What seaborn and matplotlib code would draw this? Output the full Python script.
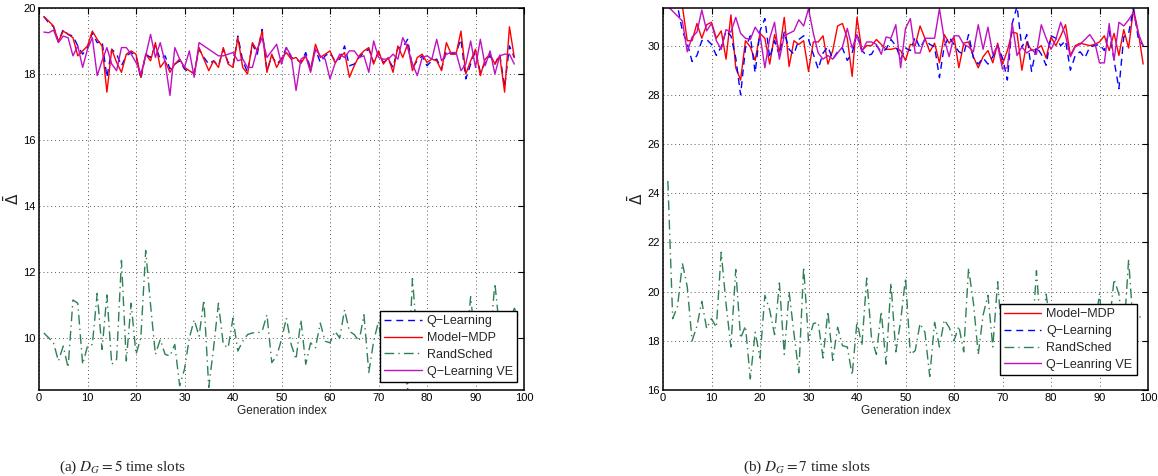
import numpy as np
import pandas as pd
import matplotlib
matplotlib.use('Agg')
import matplotlib.pyplot as plt
import seaborn as sns

# ---- panel (a): D_G = 5 time slots ----
qlearn_a = [19.74, 19.55, 19.43, 18.98, 19.35, 19.2, 19.15, 18.85, 18.6, 18.8,
            19.25, 18.95, 19.0, 17.9, 18.75, 18.6, 18.25, 18.55, 18.65, 18.55,
            17.85, 18.6, 18.5, 18.85, 18.45, 18.55, 18.15, 18.3, 18.4, 18.15,
            18.05, 18.05, 18.75, 18.5, 18.3, 18.4, 18.25, 18.75, 18.35, 18.25,
            19.15, 18.4, 18.05, 18.9, 18.6, 19.35, 18.1, 18.55, 18.3, 18.45,
            18.8, 18.5, 18.45, 18.35, 18.65, 18.15, 18.75, 18.35, 18.55, 18.65,
            18.4, 18.45, 18.85, 18.25, 18.3, 18.5, 18.65, 18.75, 18.35, 18.65,
            18.35, 18.45, 18.2, 18.8, 18.8, 19.05, 18.2, 18.4, 18.55, 18.25,
            18.4, 18.45, 18.15, 18.7, 18.6, 18.65, 19.05, 17.85, 18.3, 18.7,
            18.05, 18.35, 18.55, 18.3, 18.6, 17.6, 18.85, 18.5]
mdp_a = [19.74, 19.6, 19.45, 18.98, 19.3, 19.2, 19.1, 18.55, 18.7, 18.85,
         19.3, 19.05, 18.85, 17.45, 18.75, 18.35, 18.05, 18.6, 18.7, 18.6,
         17.9, 18.6, 18.4, 18.95, 18.2, 18.4, 18.05, 18.3, 18.45, 18.2,
         18.1, 18.0, 18.8, 18.45, 18.1, 18.4, 18.2, 18.8, 18.3, 18.2,
         19.1, 18.2, 18.0, 18.95, 18.7, 19.3, 18.05, 18.6, 18.2, 18.47,
         18.65, 18.45, 18.5, 18.32, 18.55, 18.1, 18.9, 18.5, 18.6, 18.7,
         18.35, 18.5, 18.65, 17.9, 18.25, 18.55, 18.7, 18.8, 18.3, 18.7,
         18.3, 18.5, 18.05, 18.85, 18.5, 18.9, 18.1, 18.5, 18.6, 18.35,
         18.45, 18.4, 18.1, 18.95, 18.6, 18.6, 19.3, 18.0, 18.4, 18.75,
         17.95, 18.45, 18.6, 18.3, 18.55, 17.45, 19.43, 18.5]
rand_a = [10.15, 10.0, 9.85, 9.3, 9.75, 9.1, 11.15, 11.05, 9.2, 9.75,
          9.8, 11.35, 9.65, 11.3, 9.2, 9.35, 12.35, 9.3, 11.05, 9.5,
          10.0, 12.65, 11.0, 9.5, 9.95, 9.5, 9.45, 9.8, 8.55, 9.05,
          10.0, 10.55, 10.05, 11.15, 8.5, 9.7, 11.05, 9.8, 9.7, 10.6,
          9.6, 9.9, 10.1, 10.15, 10.15, 10.2, 10.7, 9.25, 9.45, 9.95,
          10.6, 9.8, 9.35, 10.55, 9.2, 9.85, 9.7, 10.45, 9.9, 9.85,
          10.2, 10.0, 10.85, 10.2, 10.1, 9.9, 10.7, 8.95, 9.9, 10.5,
          9.4, 10.2, 9.7, 10.8, 9.6, 8.45, 11.8, 9.9, 10.3, 9.5,
          10.6, 9.8, 10.1, 9.4, 10.4, 9.7, 10.2, 9.6, 11.25, 9.8,
          10.3, 9.5, 10.0, 11.65, 10.2, 9.7, 10.4, 10.9, 10.6]
qve_a = [19.27, 19.25, 19.33, 18.95, 19.15, 19.1, 18.55, 18.85, 18.2, 18.75,
         19.1, 17.95, 18.4, 18.8, 18.3, 18.1, 18.8, 18.8, 18.6, 18.35,
         18.0, 18.55, 19.2, 18.5, 18.95, 18.35, 17.35, 18.8, 18.45, 18.2,
         18.7, 17.9, 18.95, 18.85, 18.75, 18.65, 18.55, 18.55, 18.6, 18.65,
         18.4, 18.45, 18.2, 18.2, 18.75, 19.1, 18.5, 18.7, 18.9, 18.3,
         18.8, 18.55, 17.5, 18.45, 18.55, 18.05, 18.75, 18.55, 18.45, 17.85,
         18.3, 18.6, 18.5, 18.7, 18.7, 18.5, 18.55, 18.05, 19.0, 18.5,
         18.45, 18.45, 18.6, 18.45, 19.1, 18.8, 18.3, 17.95, 18.5, 18.55,
         18.45, 19.05, 18.4, 18.6, 18.65, 18.65, 18.1, 18.3, 19.0, 18.2,
         19.05, 18.25, 18.7, 18.0, 18.55, 18.6, 18.6, 18.3]

# ---- panel (b): D_G = 7 time slots ----
mdp_b = [32.2, 32.0, 31.9, 31.6, 30.2, 30.2, 30.9, 30.3, 30.85, 30.95,
         30.3, 30.6, 29.45, 31.25, 29.1, 28.6, 30.2, 29.95, 29.4, 30.5,
         30.3, 29.25, 30.45, 29.75, 31.15, 29.15, 30.2, 30.05, 30.2, 28.95,
         30.15, 30.15, 30.4, 29.25, 29.8, 30.8, 30.9, 30.3, 28.75, 31.15,
         29.8, 30.0, 30.0, 30.25, 30.05, 29.85, 29.85, 29.9, 29.8, 29.4,
         30.05, 30.0, 30.8, 30.3, 29.75, 30.1, 29.3, 30.45, 30.1, 30.35,
         29.1, 30.1, 30.15, 29.55, 29.1, 29.55, 29.8, 29.3, 30.1, 29.25,
         29.8, 30.55, 30.5, 29.0, 30.15, 29.8, 29.85, 30.0, 29.5, 30.35,
         30.0, 30.4, 30.85, 29.6, 30.0, 30.1, 30.05, 30.0, 30.05, 30.15,
         30.4, 29.8, 30.5, 29.6, 30.65, 29.9, 31.5, 30.55, 29.25]
qlearn_b = [32.5, 32.2, 31.6, 30.6, 30.1, 29.35, 29.6, 30.2, 30.25, 30.05,
            29.6, 29.95, 30.6, 30.4, 29.5, 28.0, 29.9, 30.4, 28.9, 30.6,
            31.1, 29.5, 30.2, 29.6, 30.55, 29.85, 29.65, 30.25, 30.4, 30.25,
            29.65, 29.05, 29.7, 29.95, 29.45, 29.75, 29.9, 29.4, 29.7, 30.5,
            29.8, 29.6, 29.65, 30.0, 29.75, 29.85, 30.25, 30.0, 29.45, 29.9,
            29.8, 30.35, 29.9, 30.25, 30.05, 29.95, 28.7, 30.0, 30.35, 30.05,
            29.75, 29.65, 30.45, 29.5, 29.25, 29.5, 29.25, 29.55, 30.0, 29.5,
            28.6, 30.9, 31.6, 29.9, 30.45, 28.95, 29.95, 29.65, 29.2, 30.4,
            30.3, 30.0, 30.2, 29.0, 29.6, 29.75, 29.5, 29.95, 30.0, 30.05,
            29.8, 30.6, 29.4, 28.25, 30.35, 30.5, 31.5, 30.3, 30.0]
rand_b = [24.5, 18.9, 19.4, 21.15, 20.2, 18.0, 18.6, 19.6, 18.5, 18.9,
          18.55, 21.6, 19.5, 17.75, 20.9, 18.1, 18.6, 16.45, 18.35, 17.3,
          19.85, 19.25, 18.25, 20.35, 17.45, 20.0, 18.3, 16.7, 21.0, 18.0,
          18.7, 18.75, 17.3, 19.2, 17.2, 18.55, 17.8, 17.75, 16.6, 18.8,
          17.8, 20.55, 18.1, 17.45, 19.2, 17.05, 20.35, 17.55, 18.8, 20.55,
          17.45, 17.6, 18.7, 18.35, 16.55, 18.75, 17.75, 18.85, 18.55, 18.0,
          18.6, 17.55, 20.95, 19.55, 17.45, 19.05, 19.85, 17.75, 20.4, 17.9,
          18.6, 17.6, 18.9, 18.2, 19.3, 17.8, 20.85, 18.1, 19.9, 18.4,
          17.9, 19.1, 18.3, 17.5, 18.9, 18.0, 19.4, 17.8, 18.5, 19.9,
          17.9, 18.6, 20.5, 19.9, 18.2, 21.3, 18.5, 18.9, 19.1]
qve_b = [31.6, 31.4, 31.2, 31.0, 29.75, 30.35, 30.55, 31.45, 30.6, 30.9,
         30.2, 29.85, 30.65, 30.55, 31.15, 30.5, 30.3, 30.25, 30.75, 30.45,
         29.1, 30.3, 30.95, 29.45, 30.4, 30.5, 30.6, 31.05, 30.8, 31.5,
         30.5, 29.7, 29.45, 29.6, 29.45, 29.7, 29.95, 30.7, 29.9, 30.45,
         29.75, 30.15, 30.15, 30.05, 29.65, 30.35, 30.3, 30.85, 29.1, 30.7,
         31.1, 29.7, 29.7, 30.3, 30.3, 30.3, 31.5, 30.25, 29.55, 30.4,
         30.4, 30.05, 29.95, 29.75, 30.85, 29.85, 30.75, 29.65, 30.0, 29.05,
         29.1, 30.9, 29.6, 29.95, 29.7, 29.85, 29.65, 30.85, 30.3, 29.85,
         30.25, 30.95, 30.4, 29.55, 29.95, 30.05, 30.25, 30.45, 30.15, 29.3,
         29.3, 30.9, 29.4, 30.95, 30.8, 31.05, 31.35, 30.5, 30.0]

xticks = list(range(0, 101, 10))
yticks_a = [10, 12, 14, 16, 18, 20]
yticks_b = [16, 18, 20, 22, 24, 26, 28, 30]

MINUS = '\u2212'
styles = {
    'qlearn': dict(color='#0000ff', dashes=(5, 3.5)),
    'mdp': dict(color='#ff0000', dashes=()),
    'rand': dict(color='#2f8055', dashes=(7, 3, 1, 3)),
    'qve': dict(color='#c010c0', dashes=()),
}

sns.set_style('white')
plt.rcParams['font.family'] = ['Liberation Sans', 'DejaVu Sans']
plt.rcParams['axes.unicode_minus'] = True

fig = plt.figure(figsize=(11.58, 4.76), dpi=100)
ax_a = fig.add_axes([39 / 1158, 1 - 390 / 476, 485 / 1158, 382 / 476])
ax_b = fig.add_axes([663 / 1158, 1 - 390 / 476, 485 / 1158, 382 / 476])


def draw(ax, series, ylim, yticks, leg_anchor):
    for key, label, vals in series:
        st = styles[key]
        gen = np.arange(1, len(vals) + 1)
        df = pd.DataFrame({'gen': gen, 'val': vals})
        kw = {}
        if st['dashes']:
            kw['dashes'] = st['dashes']
        sns.lineplot(data=df, x='gen', y='val', ax=ax, color=st['color'],
                     linewidth=1.0, label=label, **kw)
    ax.set_xlim(0, 100)
    ax.set_ylim(*ylim)
    ax.set_xticks(xticks)
    ax.set_yticks(yticks)
    ax.grid(True, color='0.35', linestyle=(0, (1, 3)), linewidth=0.7)
    ax.set_axisbelow(True)
    ax.tick_params(direction='in', top=True, right=True, length=4, width=0.8,
                   labelsize=8, pad=2.5, colors='black')
    for sp in ax.spines.values():
        sp.set_color('black')
        sp.set_linewidth(1.1)
    ax.set_xlabel('Generation index', fontsize=8.5, labelpad=1)
    ax.set_ylabel(r'$\bar{\Delta}$', fontsize=11, labelpad=1)
    leg = ax.legend(loc='lower right', bbox_to_anchor=leg_anchor,
                    borderaxespad=0, fontsize=9, handlelength=3.0,
                    fancybox=False, framealpha=1, edgecolor='black',
                    borderpad=0.35, labelspacing=0.38, handletextpad=0.4)
    leg.get_frame().set_linewidth(1.0)


draw(ax_a,
     [('qlearn', 'Q' + MINUS + 'Learning', qlearn_a),
      ('mdp', 'Model' + MINUS + 'MDP', mdp_a),
      ('rand', 'RandSched', rand_a),
      ('qve', 'Q' + MINUS + 'Learning VE', qve_a)],
     (8.42, 20), yticks_a, (0.9856, 0.021))

draw(ax_b,
     [('mdp', 'Model' + MINUS + 'MDP', mdp_b),
      ('qlearn', 'Q' + MINUS + 'Learning', qlearn_b),
      ('rand', 'RandSched', rand_b),
      ('qve', 'Q' + MINUS + 'Leanring VE', qve_b)],
     (16, 31.53), yticks_b, (0.977, 0.039))

fig.text(122 / 1158, 1 - 467 / 476, r'(a) $D_G = 5$ time slots', ha='center',
         va='center', fontsize=11, family='Liberation Serif',
         math_fontfamily='stix')
fig.text(807 / 1158, 1 - 467 / 476, r'(b) $D_G = 7$ time slots', ha='center',
         va='center', fontsize=11, family='Liberation Serif',
         math_fontfamily='stix')

fig.savefig('out.png', dpi=100)
